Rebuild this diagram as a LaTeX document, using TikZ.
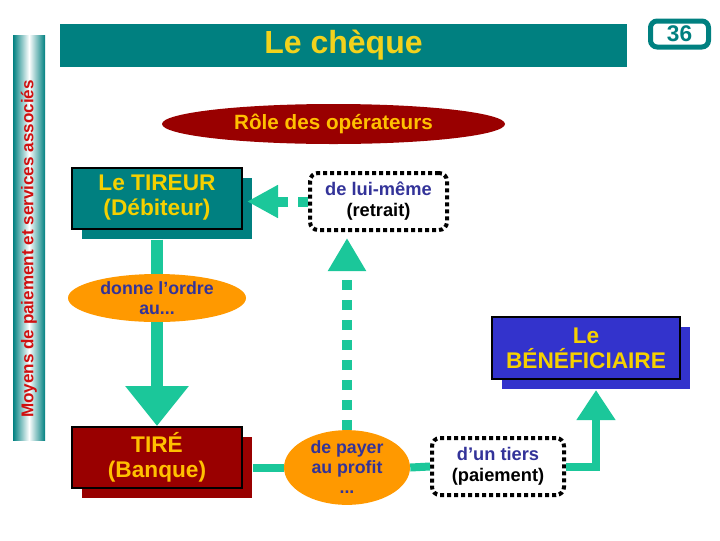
\documentclass[tikz,border=0pt]{standalone}
\usepackage{fontspec}
\setmainfont{Liberation Sans}
\usetikzlibrary{arrows.meta,shapes.geometric,shadows,calc}
\definecolor{sarcelle}{HTML}{008080}
\definecolor{vertfleche}{HTML}{1BC79A}
\definecolor{bordeaux}{HTML}{990000}
\definecolor{orangecl}{HTML}{FF9900}
\definecolor{bleuboite}{HTML}{3333CC}
\definecolor{bleutexte}{HTML}{333399}
\definecolor{jaune}{HTML}{F5D000}
\definecolor{jaunetire}{HTML}{FFC000}
\definecolor{jaunetitre}{HTML}{F2D21C}
\definecolor{rougecote}{HTML}{D01010}
\begin{document}
\begin{tikzpicture}[x=0.75pt, y=-0.75pt,
    every node/.style={font=\bfseries, align=center, inner sep=0pt},
    boite/.style={rectangle, draw=black, line width=1.5pt, minimum width=127.5pt, minimum height=45.75pt,
        fill=#1, general shadow={fill=#1, shadow xshift=7.5pt, shadow yshift=-7.5pt},
        font=\bfseries\fontsize{17}{18.75}\selectfont},
    pointille/.style={rectangle, draw=black, fill=white, rounded corners=6pt, line width=3pt,
        dash pattern=on 3pt off 2.25pt, font=\bfseries\fontsize{13.7}{15.75}\selectfont},
    bulle/.style={ellipse, fill=orangecl, text=bleutexte, font=\bfseries\fontsize{13.3}{14.5}\selectfont},
    liaison/.style={draw=vertfleche, line width=6pt},
    tirets/.style={draw=vertfleche, line width=7.5pt, dash pattern=on 7.5pt off 7.5pt}]
    \useasboundingbox (0,0) rectangle (720,540);
    \fill[left color=sarcelle, right color=sarcelle, middle color=white] (13,35) rectangle (45,440);
    \node[rotate=90, text=rougecote, font=\bfseries\fontsize{12.8}{14}\selectfont] (cote) at (29,249)
        {Moyens de paiement et services associés};
    \node[fill=sarcelle, minimum width=425.25pt, minimum height=32.25pt, text=jaunetitre,
        font=\bfseries\fontsize{24}{28}\selectfont] (titre) at (343.5,45.5) {Le chèque};
    \node[draw=sarcelle, line width=3.75pt, rounded corners=5pt, fill=white, minimum width=43.5pt,
        minimum height=19.5pt, text=sarcelle, font=\bfseries\fontsize{17}{19}\selectfont] (num) at (679.5,34) {36};
    \node[ellipse, fill=bordeaux, minimum width=257.25pt, minimum height=30pt, text=jaunetire,
        font=\bfseries\fontsize{15.5}{17}\selectfont] (role) at (333.5,124) {Rôle des opérateurs};
    \node[boite=sarcelle, text=jaune] (tireur) at (157,198) {Le TIREUR\\(Débiteur)};
    \node[boite=bordeaux, text=jaunetire] (tire) at (157,457.5) {TIRÉ\\(Banque)};
    \node[boite=bleuboite, text=jaune, minimum width=141pt, minimum height=46.5pt] (benef) at (586,348)
        {Le\\BÉNÉFICIAIRE};
    \node[pointille, minimum width=102.75pt, minimum height=42.75pt] (lui) at (378.5,201.5)
        {\textcolor{bleutexte}{de lui-même}\\(retrait)};
    \node[pointille, minimum width=99pt, minimum height=42.75pt] (tiers) at (498,466.5)
        {\textcolor{bleutexte}{d’un tiers}\\(paiement)};
    \node[bulle, minimum width=133.5pt, minimum height=36pt] (ordre) at (157,298) {donne l’ordre\\au...};
    \node[bulle, minimum width=94.5pt, minimum height=53.25pt, font=\bfseries\fontsize{13.3}{15}\selectfont]
        (payer) at (347,467.5) {de payer\\au profit\\...};
    \draw[liaison, line width=9pt] ($(tireur.south)+(0,10)$) -- (ordre.north);
    \draw[liaison, line width=9pt, -{Triangle[length=30pt, width=45.75pt]}] (ordre.south) -- (tire.north);
    \draw[liaison] ($(tire.east)+(10,10)$) -- (payer.west);
    \draw[liaison] (payer.east) -- (tiers.west);
    \draw[liaison, -{Triangle[length=22.5pt, width=27.75pt]}] (tiers.east) -| ($(benef.south)+(10,10)$);
    \draw[tirets, -{Triangle[length=24.75pt, width=27pt]}] (payer.north) -- ($(payer.north |- lui.south)+(0,6)$);
    \draw[tirets, -{Triangle[length=23.25pt, width=23.25pt]}] (lui.west) -- ($(lui.west -| tireur.east)+(4,0)$);
\end{tikzpicture}
\end{document}
